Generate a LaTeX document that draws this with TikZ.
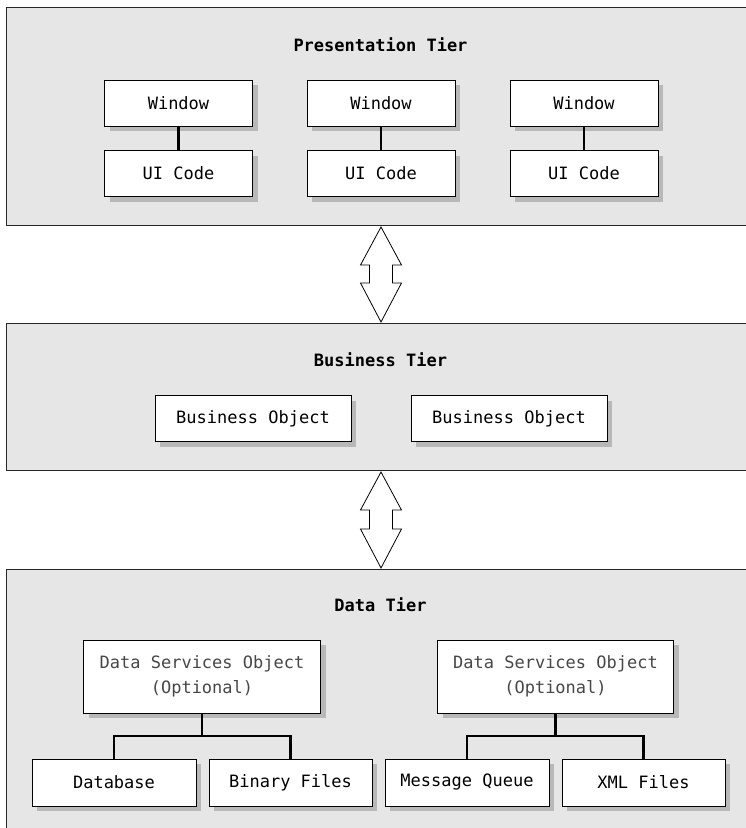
\documentclass[tikz,border=0pt]{standalone}
\usepackage{fontspec}
\setmonofont{DejaVu Sans Mono}
\usetikzlibrary{shadows,calc}
\definecolor{panelgray}{HTML}{E6E6E6}
\definecolor{shadowgray}{HTML}{B8B8B8}
\tikzset{
  tier/.style={draw=black!85, line width=1pt, fill=panelgray},
  title/.style={font=\ttfamily\bfseries\fontsize{17}{20}\selectfont, inner sep=0pt},
  box/.style={draw=black, line width=1pt, fill=white, inner sep=0pt, align=center,
    font=\ttfamily\fontsize{17}{20}\selectfont,
    drop shadow={shadow xshift=5pt, shadow yshift=-5pt, fill=shadowgray, opacity=1}},
  lightbox/.style={box, text=black!72, font=\ttfamily\fontsize{17}{25}\selectfont},
  conn/.style={draw=black, line width=2.2pt},
  tierarrow/.style={draw=black, line width=0.8pt, fill=white, line join=miter},
}
\begin{document}
\begin{tikzpicture}[x=1pt,y=-1pt]
\useasboundingbox (0,0) rectangle (745,828);
% tiers
\draw[tier] (6.5,7.5) rectangle (760,225.5);
\draw[tier] (6.5,323.5) rectangle (760,470.5);
\draw[tier] (6.5,569.5) rectangle (760,840);
\coordinate (pbot) at (381,225.5);
\coordinate (btop) at (381,323.5);
\coordinate (bbot) at (381,470.5);
\coordinate (dtop) at (381,569.5);

\node[title] (pt) at (380.5,45) {Presentation Tier};
\node[title] (bt) at (380.5,360) {Business Tier};
\node[title] (dt) at (380.5,605) {Data Tier};

% presentation boxes
\foreach \i/\x in {1/178.5, 2/381, 3/584}{
  \node[box, minimum width=148pt, minimum height=46pt] (w\i) at (\x,103) {Window};
  \node[box, minimum width=148pt, minimum height=46pt] (u\i) at (\x,173.5) {UI Code};
  \draw[conn] (w\i) -- (u\i);
}

% business boxes
\node[box, minimum width=196pt, minimum height=46pt] (bo1) at (253,418.5) {Business Object};
\node[box, minimum width=196pt, minimum height=46pt] (bo2) at (509,418.5) {Business Object};

% data boxes
\node[lightbox, minimum width=237pt, minimum height=73pt] (ds1) at (202,676.5) {Data Services Object\\(Optional)};
\node[lightbox, minimum width=236pt, minimum height=73pt] (ds2) at (555.5,676.5) {Data Services Object\\(Optional)};
\node[box, minimum width=164pt, minimum height=47pt] (db) at (114,782.5) {Database};
\node[box, minimum width=163pt, minimum height=47pt] (bf) at (290.5,782.5) {Binary Files};
\node[box, minimum width=164pt, minimum height=47pt] (mq) at (467,782.5) {Message Queue};
\node[box, minimum width=163pt, minimum height=47pt] (xf) at (643.5,782.5) {XML Files};

\coordinate (j1) at (ds1.south |- 0,736);
\coordinate (j2) at (ds2.south |- 0,736);
\draw[conn] (ds1.south) -- (j1);
\draw[conn] (db.north) |- (j1) -| (bf.north);
\draw[conn] (ds2.south) -- (j2);
\draw[conn] (mq.north) |- (j2) -| (xf.north);

% double arrows between tiers
\foreach \a/\b in {pbot/btop, bbot/dtop}{
  \draw[tierarrow] ($(\a)+(0,1.5)$) -- ($(\a)+(20.5,39.5)$) -- ($(\a)+(11.5,39.5)$)
    -- ($(\b)+(11.5,-40.5)$) -- ($(\b)+(20.5,-40.5)$) -- ($(\b)+(0,-1.5)$)
    -- ($(\b)+(-20.5,-40.5)$) -- ($(\b)+(-11.5,-40.5)$) -- ($(\a)+(-11.5,39.5)$)
    -- ($(\a)+(-20.5,39.5)$) -- cycle;
}
\end{tikzpicture}
\end{document}
